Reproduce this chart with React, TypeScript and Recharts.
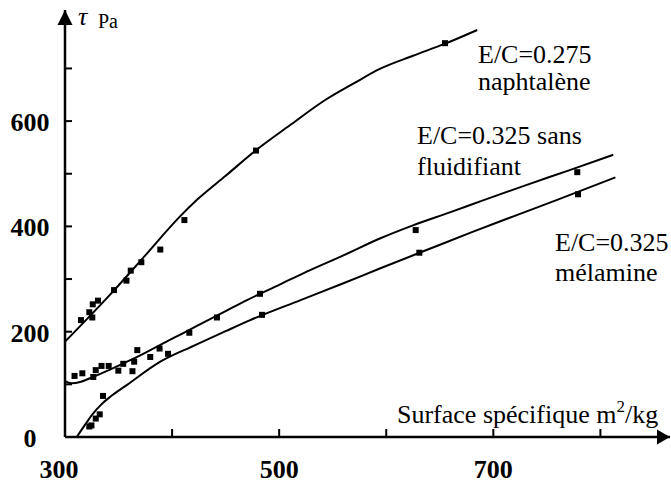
import React from 'react';
import { ComposedChart, Line, Scatter, XAxis, YAxis } from 'recharts';

const xTicks = [300, 400, 500, 600, 700, 800];
const xTickLabels = [300, 500, 700];
const yTicks = [0, 100, 200, 300, 400, 500, 600, 700];
const yTickLabels = [0, 200, 400, 600];

const naphPoints = [
  { x: 314.9, y: 222 }, { x: 322.7, y: 237 }, { x: 325.5, y: 227 }, { x: 325.9, y: 252 },
  { x: 330.8, y: 259 }, { x: 345.8, y: 279 }, { x: 357.4, y: 297 }, { x: 361.4, y: 316 },
  { x: 371.3, y: 332 }, { x: 389, y: 356 }, { x: 411.5, y: 412 }, { x: 478.4, y: 544 },
  { x: 654.9, y: 748 },
];
const sansPoints = [
  { x: 308.9, y: 116 }, { x: 316.2, y: 121 }, { x: 326.4, y: 114 }, { x: 328.7, y: 127 },
  { x: 334.1, y: 135 }, { x: 340.8, y: 135 }, { x: 349.8, y: 126 }, { x: 354.4, y: 139 },
  { x: 363, y: 125 }, { x: 364.6, y: 143 }, { x: 367.5, y: 165 }, { x: 379.6, y: 152 },
  { x: 388.3, y: 168 }, { x: 396.2, y: 158 }, { x: 416.1, y: 198 }, { x: 441.9, y: 227 },
  { x: 482.1, y: 272 }, { x: 627.5, y: 393 }, { x: 778.4, y: 503 },
];
const melPoints = [
  { x: 322.7, y: 20 }, { x: 324.7, y: 22 }, { x: 328.7, y: 35 }, { x: 332.4, y: 43 },
  { x: 335.5, y: 78 }, { x: 484, y: 232 }, { x: 630.9, y: 350 }, { x: 779.1, y: 461 },
];

const naphCurve = [
  { x: 300, y: 181 }, { x: 346, y: 279 }, { x: 375, y: 345 }, { x: 407, y: 418 },
  { x: 423, y: 450 }, { x: 450, y: 496 }, { x: 478, y: 544 }, { x: 510, y: 592 },
  { x: 543, y: 640 }, { x: 570, y: 672 }, { x: 594, y: 699 }, { x: 625, y: 724 },
  { x: 655, y: 747 }, { x: 685, y: 773 },
];
const sansCurve = [
  { x: 300, y: 106 }, { x: 306, y: 102 }, { x: 315, y: 105 }, { x: 326, y: 114 },
  { x: 342, y: 128 }, { x: 358, y: 143 }, { x: 373, y: 158 }, { x: 389, y: 175 },
  { x: 410, y: 197 }, { x: 430, y: 218 }, { x: 450, y: 239 }, { x: 470, y: 260 },
  { x: 500, y: 289 }, { x: 530, y: 318 }, { x: 560, y: 345 }, { x: 594, y: 377 },
  { x: 625, y: 402 }, { x: 660, y: 427 }, { x: 691, y: 450 }, { x: 730, y: 478 },
  { x: 770, y: 506 }, { x: 812, y: 536 },
];
const melCurve = [
  { x: 311, y: 0 }, { x: 318, y: 21 }, { x: 326, y: 44 }, { x: 334, y: 62 },
  { x: 342, y: 76 }, { x: 358, y: 99 }, { x: 389, y: 143 }, { x: 420, y: 173 },
  { x: 450, y: 201 }, { x: 473, y: 222 }, { x: 520, y: 260 }, { x: 560, y: 292 },
  { x: 594, y: 320 }, { x: 640, y: 357 }, { x: 680, y: 389 }, { x: 720, y: 420 },
  { x: 759, y: 450 }, { x: 814, y: 493 },
];

const FONT = "'Liberation Serif', 'Times New Roman', Times, serif";
const serif: React.CSSProperties = { fontFamily: FONT };

const Square = (props: any) => {
  const { cx, cy } = props;
  if (cx == null || cy == null) return null;
  return <rect x={cx - 3} y={cy - 3} width={6} height={6} fill="#000" />;
};

const XTick = (props: any) => {
  const { x, y, payload } = props;
  const v = payload.value;
  return (
    <g>
      {v !== xTicks[0] && <line x1={x} x2={x} y1={y} y2={y - 8} stroke="#000" strokeWidth={2} />}
      {xTickLabels.includes(v) && (
        <text x={v === xTicks[0] ? x - 6 : x} y={y + 41} textAnchor="middle" style={serif}
          fontWeight="bold" fontSize={26} fill="#000">{v}</text>
      )}
    </g>
  );
};

const YTick = (props: any) => {
  const { x, y, payload } = props;
  const v = payload.value;
  return (
    <g>
      {v !== 0 && <line x1={x} x2={x + 7} y1={y} y2={y} stroke="#000" strokeWidth={2} />}
      {yTickLabels.includes(v) && (
        <text x={x - 35} y={y + 10} textAnchor="middle" style={serif}
          fontWeight="bold" fontSize={26} fill="#000">{v}</text>
      )}
    </g>
  );
};

const YArrow = (props: any) => {
  const vb = props.viewBox || {};
  const x = (vb.x || 0) + (vb.width || 0);
  const y = vb.y || 0;
  return <polygon points={`${x},${y} ${x - 7.5},${y + 15} ${x + 7.5},${y + 15}`} fill="#000" />;
};

const XArrow = (props: any) => {
  const vb = props.viewBox || {};
  const x = (vb.x || 0) + (vb.width || 0);
  const y = vb.y || 0;
  return <polygon points={`${x},${y} ${x - 13},${y - 7.5} ${x - 13},${y + 7.5}`} fill="#000" />;
};

export default function App() {
  return (
    <div style={{ position: 'absolute', left: 0, top: 0, width: 671, height: 483, background: '#fff' }}>
      <ComposedChart width={671} height={483} margin={{ top: 10, right: 1, bottom: 45, left: 64 }}>
        <XAxis type="number" dataKey="x" domain={[300, 865]} ticks={xTicks} interval={0}
          allowDataOverflow height={1} tickSize={0} tickMargin={0} tickLine={false}
          tick={<XTick />} axisLine={{ stroke: '#000', strokeWidth: 2.5 }} label={<XArrow />} />
        <YAxis type="number" dataKey="y" domain={[0, 811]} ticks={yTicks} interval={0}
          allowDataOverflow width={1} tickSize={0} tickMargin={0} tickLine={false}
          tick={<YTick />} axisLine={{ stroke: '#000', strokeWidth: 2.5 }} label={<YArrow />} />
        <Line data={naphCurve} dataKey="y" type="monotone" stroke="#000" strokeWidth={2}
          dot={false} activeDot={false} isAnimationActive={false} />
        <Line data={sansCurve} dataKey="y" type="monotone" stroke="#000" strokeWidth={2}
          dot={false} activeDot={false} isAnimationActive={false} />
        <Line data={melCurve} dataKey="y" type="monotone" stroke="#000" strokeWidth={2}
          dot={false} activeDot={false} isAnimationActive={false} />
        <Scatter data={naphPoints} dataKey="y" shape={<Square />} isAnimationActive={false} />
        <Scatter data={sansPoints} dataKey="y" shape={<Square />} isAnimationActive={false} />
        <Scatter data={melPoints} dataKey="y" shape={<Square />} isAnimationActive={false} />
      </ComposedChart>
      <svg width={671} height={483} style={{ position: 'absolute', left: 0, top: 0, pointerEvents: 'none' }}>
        <g style={serif} fontSize={26} fill="#000">
          <text x={78} y={25} fontStyle="italic" style={serif}>τ</text>
          <text x={98} y={28} fontSize={20} style={serif}>Pa</text>
          <text x={478} y={63} style={serif}>E/C=0.275</text>
          <text x={478} y={89.5} style={serif}>naphtalène</text>
          <text x={417} y={143.5} style={serif}>E/C=0.325 sans</text>
          <text x={417} y={174.5} style={serif}>fluidifiant</text>
          <text x={555} y={250.5} style={serif}>E/C=0.325</text>
          <text x={555} y={281} style={serif}>mélamine</text>
          <text x={397} y={422.5} style={serif}>Surface spécifique m<tspan dy={-11} fontSize={17}>2</tspan><tspan dy={11}>/kg</tspan></text>
        </g>
      </svg>
    </div>
  );
}
